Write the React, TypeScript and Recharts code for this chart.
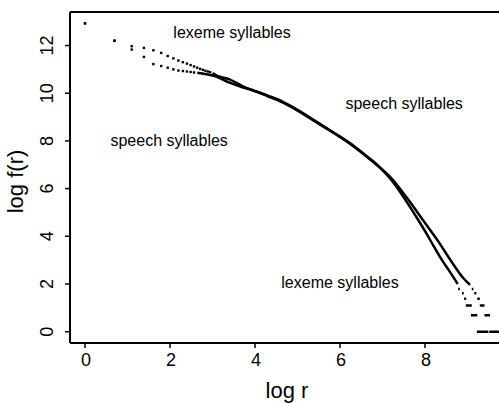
import { ComposedChart, Line, ReferenceDot, ReferenceLine, Scatter, XAxis, YAxis } from "recharts";

// log rank positions of the first ranks (r = 1..19)
const headLogR = [0, 0.693, 1.099, 1.386, 1.609, 1.792, 1.946, 2.079, 2.197, 2.303, 2.398, 2.485, 2.565, 2.639, 2.708, 2.773, 2.833, 2.89, 2.944];

const lexemeHeadLogF = [12.93, 12.2, 11.97, 11.9, 11.8, 11.69, 11.56, 11.46, 11.37, 11.3, 11.24, 11.18, 11.12, 11.07, 11.02, 10.98, 10.94, 10.91, 10.88];
const speechHeadLogF = [12.93, 12.2, 11.83, 11.52, 11.22, 11.14, 11.07, 11.0, 10.95, 10.93, 10.91, 10.89, 10.87];

const lexemeBodyLogR = [3.0, 3.1, 3.4, 3.7, 4.04, 4.3, 4.66, 5.0, 5.45, 5.85, 6.24, 6.6, 6.86, 7.2, 7.53, 7.8, 8.04, 8.2, 8.4, 8.59, 8.77];
const lexemeBodyLogF = [10.84, 10.74, 10.58, 10.3, 10.07, 9.9, 9.64, 9.3, 8.8, 8.35, 7.9, 7.4, 7.02, 6.38, 5.55, 4.8, 4.1, 3.6, 3.0, 2.5, 2.0];

const speechBodyLogR = [2.64, 2.9, 3.1, 3.4, 3.7, 4.04, 4.3, 4.66, 5.0, 5.45, 5.85, 6.24, 6.6, 6.86, 7.2, 7.6, 7.95, 8.3, 8.6, 8.9, 9.06];
const speechBodyLogF = [10.86, 10.78, 10.69, 10.44, 10.25, 10.06, 9.87, 9.6, 9.27, 8.77, 8.33, 7.87, 7.38, 7.0, 6.45, 5.55, 4.68, 3.82, 3.0, 2.25, 1.96];

// low-frequency tail: log f = log 6 .. log 1, each level a run of ranks
const tailLevels = [1.792, 1.609, 1.386, 1.099, 0.693, 0];
const lexemeTailStart = [8.78, 8.87, 8.92, 8.96, 9.08, 9.22];
const lexemeTailEnd = [8.82, 8.91, 8.97, 9.1, 9.23, 9.49];
const speechTailStart = [9.1, 9.16, 9.23, 9.29, 9.4, 9.51];
const speechTailEnd = [9.14, 9.21, 9.29, 9.4, 9.53, 9.8];

const xTicks = [0, 2, 4, 6, 8];
const yTicks = [0, 2, 4, 6, 8, 10, 12];

const pts = (xs: number[], ys: number[]) => ys.map((y, i) => ({ x: xs[i], y }));
const tail = (starts: number[], ends: number[]) =>
  tailLevels.flatMap((lv, i) => [
    { x: starts[i], y: lv },
    { x: ends[i], y: lv },
    { x: ends[i], y: null },
  ]);

const FONT = '"Liberation Sans", Arial, sans-serif';

const Dot = (p: any) => <rect x={p.cx - 1.2} y={p.cy - 1.2} width={2.4} height={2.4} fill="#000" />;

const YTick = ({ x, y, payload }: any) => (
  <text x={x - 10} y={y} transform={`rotate(-90 ${x - 10} ${y})`} textAnchor="middle" fontSize={18} fontFamily={FONT} fill="#000">
    {payload.value}
  </text>
);

const XTick = ({ x, y, payload }: any) => (
  <text x={x + 1} y={y + 16} textAnchor="middle" fontSize={18} fontFamily={FONT} fill="#000">
    {payload.value}
  </text>
);

const YTitle = ({ viewBox }: any) => {
  const cx = viewBox.x + 23;
  const cy = viewBox.y + viewBox.height / 2 + 4;
  return (
    <text x={cx} y={cy} transform={`rotate(-90 ${cx} ${cy})`} textAnchor="middle" fontSize={22} fontFamily={FONT} fill="#000">
      log f(r)
    </text>
  );
};

const XTitle = ({ viewBox }: any) => (
  <text x={viewBox.x + viewBox.width / 2 + 2.5} y={viewBox.y + 55} textAnchor="middle" fontSize={22} fontFamily={FONT} fill="#000">
    log r
  </text>
);

const note = (value: string) => ({ value, position: "center" as const, fontSize: 16, fontFamily: FONT, fill: "#000" });

export default function App() {
  return (
    <div style={{ position: "absolute", left: 0, top: 0, background: "#fff" }}>
      <ComposedChart width={499} height={403} margin={{ top: 12, right: 0, bottom: 0, left: 0 }}>
        <XAxis
          type="number"
          dataKey="x"
          domain={[-0.353, 9.741]}
          allowDataOverflow
          ticks={xTicks}
          height={60}
          tickSize={5}
          axisLine={{ stroke: "#000", strokeWidth: 2 }}
          tickLine={{ stroke: "#000", strokeWidth: 1.5 }}
          tick={<XTick />}
          label={<XTitle />}
        />
        <YAxis
          type="number"
          dataKey="y"
          domain={[-0.474, 13.405]}
          allowDataOverflow
          ticks={yTicks}
          width={70}
          tickSize={5}
          axisLine={{ stroke: "#000", strokeWidth: 2 }}
          tickLine={{ stroke: "#000", strokeWidth: 1.5 }}
          tick={<YTick />}
          label={<YTitle />}
        />
        <ReferenceLine y={13.405} stroke="#000" strokeWidth={2} />
        <Scatter data={pts(headLogR, lexemeHeadLogF)} dataKey="y" shape={<Dot />} isAnimationActive={false} />
        <Scatter data={pts(headLogR, speechHeadLogF)} dataKey="y" shape={<Dot />} isAnimationActive={false} />
        <Line data={pts(lexemeBodyLogR, lexemeBodyLogF)} dataKey="y" type="monotone" stroke="#000" strokeWidth={2.5} dot={false} isAnimationActive={false} />
        <Line data={pts(speechBodyLogR, speechBodyLogF)} dataKey="y" type="monotone" stroke="#000" strokeWidth={2.5} dot={false} isAnimationActive={false} />
        <Line data={tail(lexemeTailStart, lexemeTailEnd)} dataKey="y" stroke="#000" strokeWidth={2.5} dot={false} isAnimationActive={false} />
        <Line data={tail(speechTailStart, speechTailEnd)} dataKey="y" stroke="#000" strokeWidth={2.5} dot={false} isAnimationActive={false} />
        <ReferenceDot x={3.46} y={12.55} r={0} label={note("lexeme syllables")} />
        <ReferenceDot x={1.98} y={8.03} r={0} label={note("speech syllables")} />
        <ReferenceDot x={7.51} y={9.58} r={0} label={note("speech syllables")} />
        <ReferenceDot x={6.0} y={2.07} r={0} label={note("lexeme syllables")} />
      </ComposedChart>
    </div>
  );
}
